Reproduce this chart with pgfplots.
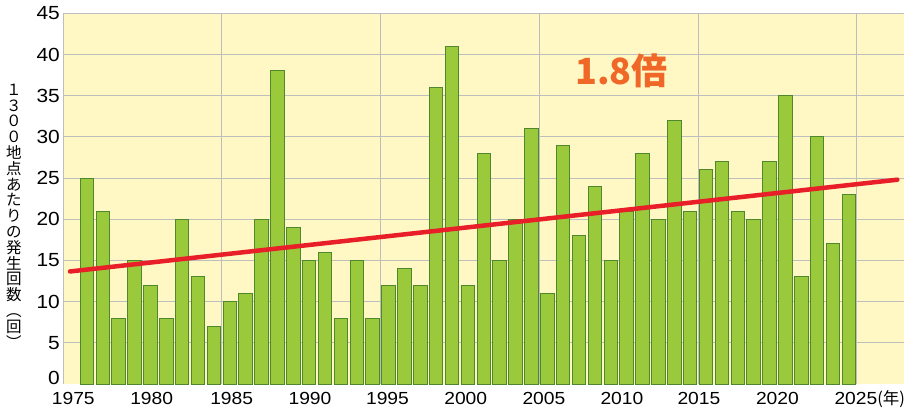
\documentclass[border=0pt]{standalone}
\usepackage{fontspec}
\setmainfont{Liberation Sans}
\newfontfamily\numfont{Liberation Sans}[FakeStretch=1.1]
\newfontfamily\cjk{Noto Sans CJK JP}
\usepackage{pgfplots}
\pgfplotsset{compat=1.18}
\usepackage{pgfplotstable}
\definecolor{bgy}{RGB}{255,248,197}
\definecolor{barfill}{RGB}{154,201,60}
\definecolor{baredge}{RGB}{78,135,46}
\definecolor{gridg}{RGB}{190,190,190}
\definecolor{trendred}{RGB}{232,30,40}
\definecolor{orng}{RGB}{240,104,40}

\pgfplotstableread{
year count
1976 25
1977 21
1978 8
1979 15
1980 12
1981 8
1982 20
1983 13
1984 7
1985 10
1986 11
1987 20
1988 38
1989 19
1990 15
1991 16
1992 8
1993 15
1994 8
1995 12
1996 14
1997 12
1998 36
1999 41
2000 12
2001 28
2002 15
2003 20
2004 31
2005 11
2006 29
2007 18
2008 24
2009 15
2010 21
2011 28
2012 20
2013 32
2014 21
2015 26
2016 27
2017 21
2018 20
2019 27
2020 35
2021 13
2022 30
2023 17
2024 23
}\datatable

\begin{document}
\begin{tikzpicture}
\useasboundingbox (-63.3pt,-23pt) rectangle (854.7pt,384pt);
\begin{axis}[
  scale only axis, width=841pt, height=370.7pt,
  xmin=1974.507, xmax=2027.49, ymin=0, ymax=45,
  axis background/.style={fill=bgy},
  axis line style={draw=none},
  major tick length=0pt,
  ytick={5,10,...,45},
  ymajorgrids,
  grid style={gridg, line width=1pt},
  extra y ticks={0},
  extra y tick style={grid=none, yticklabel style={yshift=6pt}},
  xtick={1975.137,1980.076,1985.115,1990.047,1994.929,1999.861,2004.787,2009.701,2014.551,2019.496,2024.441},
  xticklabels={1975,1980,1985,1990,1995,2000,2005,2010,2015,2020,{2025\rlap{\cjk\fontsize{16.5}{16.5}\selectfont (年)}}},
  extra x ticks={1974.507,1984.5,1994.5,2004.5,2014.5,2024.5},
  extra x tick labels={},
  extra x tick style={grid=major},
  /pgf/number format/assume math mode=true,
  yticklabel style={font=\numfont\fontsize{19}{19}\selectfont, anchor=east, inner sep=0pt, xshift=-3.3pt},
  xticklabel style={font=\numfont\fontsize{17.5}{17.5}\selectfont, anchor=base, inner sep=0pt, yshift=-20.5pt},
]
\addplot[ybar, bar width=13.5pt, bar shift=0pt, fill=barfill, draw=baredge, line width=1pt] table[x=year, y=count] {\datatable};
\addplot[trendred, line width=4.5pt, line cap=round] coordinates {(1974.93,13.66) (2027.05,24.80)};
\node[orng, font=\cjk\bfseries\fontsize{36}{36}\selectfont] at (axis cs:2009.68,38.0) {1.8倍};
\end{axis}
\node[align=center, inner sep=0pt, font=\cjk\fontsize{15.5}{15.8}\selectfont] at (-49.3pt,168pt) {１\\３\\０\\０\\地\\点\\あ\\た\\り\\の\\発\\生\\回\\数\\︵\\回\\︶};
\end{tikzpicture}
\end{document}
